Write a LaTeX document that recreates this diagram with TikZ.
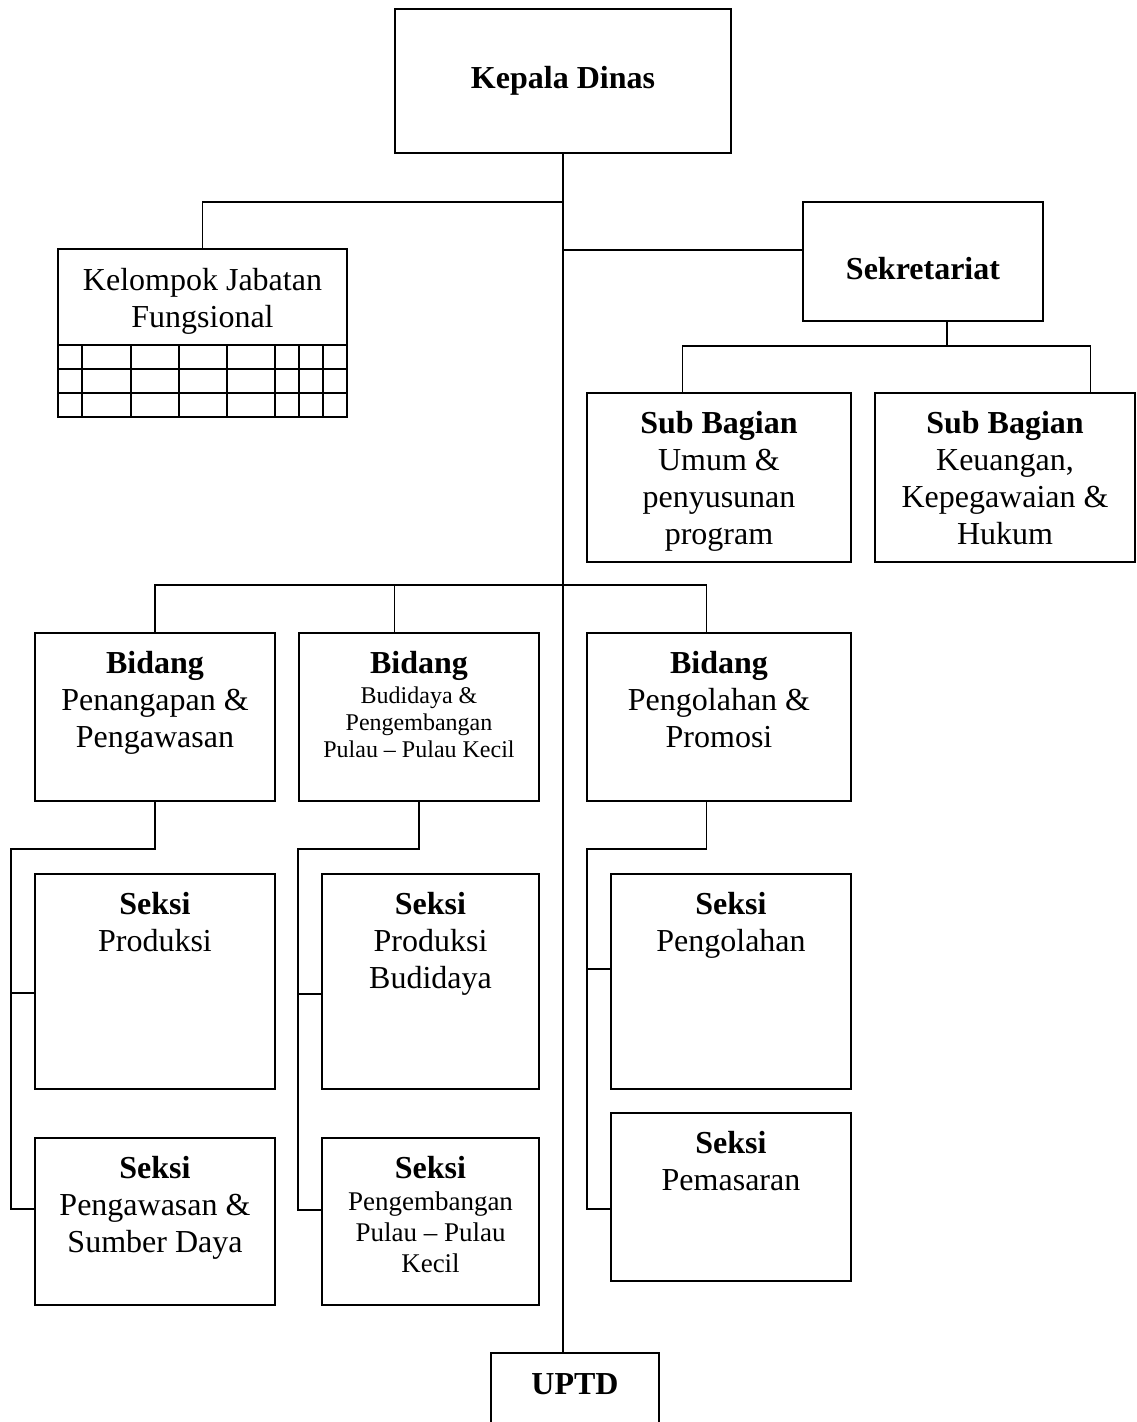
\documentclass[tikz,border=0pt]{standalone}
\usepackage{fontspec}
\setmainfont{Liberation Serif}
\tikzset{
  box/.style={draw, line width=1.5pt, inner sep=0pt, font=\fontsize{32}{37}\selectfont},
  conn/.style={line width=1.5pt},
  grid line/.style={line width=1.5pt}
}
% name, left, top, right, bottom, pad, content
\newcommand\bx[7]{%
  \node[box] (#1) at ({(#2+#4)/2},{(#3+#5)/2})
  {\parbox[c][\dimexpr#5pt-#3pt\relax][t]{\dimexpr#4pt-#2pt\relax}{\centering\vspace*{#6pt}\rule{0pt}{24pt}#7\par}};}
\begin{document}
\begin{tikzpicture}[x=1pt,y=-1pt]
\useasboundingbox (0,0) rectangle (1136,1422);
\clip (0,0) rectangle (1136,1422);
\fill[white] (0,0) rectangle (1136,1422);

% boxes
\bx{kd}{395}{9}{731}{153}{55}{\bfseries Kepala Dinas}
\bx{kjf}{58}{249}{347}{417}{17}{Kelompok Jabatan\\ Fungsional}
\bx{sek}{803}{202}{1043}{321}{53}{\bfseries Sekretariat}
\bx{sub1}{587}{393}{851}{562}{16}{\textbf{Sub Bagian}\\ Umum \&\\ penyusunan\\ program}
\bx{sub2}{875}{393}{1135}{562}{16}{\textbf{Sub Bagian}\\ Keuangan,\\ Kepegawaian \&\\ Hukum}
\bx{bid1}{35}{633}{275}{801}{16}{\textbf{Bidang}\\ Penangapan \&\\ Pengawasan}
\bx{bid2}{299}{633}{539}{801}{16}{\textbf{Bidang}\\[3pt]\fontsize{24}{27}\selectfont Budidaya \&\\ Pengembangan\\ Pulau – Pulau Kecil}
\bx{bid3}{587}{633}{851}{801}{16}{\textbf{Bidang}\\ Pengolahan \&\\ Promosi}
\bx{s11}{35}{874}{275}{1089}{16}{\textbf{Seksi}\\ Produksi}
\bx{s12}{35}{1138}{275}{1305}{16}{\textbf{Seksi}\\ Pengawasan \&\\ Sumber Daya}
\bx{s21}{322}{874}{539}{1089}{16}{\textbf{Seksi}\\ Produksi\\ Budidaya}
\bx{s22}{322}{1138}{539}{1305}{16}{\textbf{Seksi}\\[1pt]\fontsize{27}{31}\selectfont Pengembangan\\ Pulau – Pulau\\ Kecil}
\bx{s31}{611}{874}{851}{1089}{16}{\textbf{Seksi}\\ Pengolahan}
\bx{s32}{611}{1113}{851}{1281}{16}{\textbf{Seksi}\\ Pemasaran}
\bx{uptd}{491}{1353}{659}{1440}{17}{\bfseries UPTD}

% grid under Kelompok Jabatan Fungsional
\foreach \y in {345,369,393} \draw[grid line] (58,\y) -- (347,\y);
\foreach \x in {82,131,179,227,275,299,323} \draw[grid line] (\x,345) -- (\x,417);

% junction coordinates
\coordinate (bj1) at (563,202);
\coordinate (bj2) at (563,250);
\coordinate (sb) at (947,346);
\coordinate (bb) at (563,585);
\coordinate (c1) at (11,849);
\coordinate (k11) at (11,993);
\coordinate (k12) at (11,1209);
\coordinate (c2) at (298,849);
\coordinate (k21) at (298,994);
\coordinate (k22) at (298,1210);
\coordinate (c3) at (587,849);
\coordinate (k31) at (587,969);
\coordinate (k32) at (587,1209);

% connectors
\draw[conn] (kd.south) -- (kd.south |- uptd.north);
\draw[conn] (bj1) -| (kjf.north);
\draw[conn] (bj2) -- (sek.west |- bj2);
\draw[conn] (sek.south -| sb) -- (sb);
\draw[conn] ([xshift=96pt]sub1.north west) |- (sb) -| ([xshift=216pt]sub2.north west);
\draw[conn] (bid1.north) |- (bb) -| ([xshift=120pt]bid3.north west);
\draw[conn] ([xshift=96pt]bid2.north west) -- ([xshift=96pt]bid2.north west |- bb);

\draw[conn] (bid1.south) |- (c1) -- (k12) -- (s12.west |- k12);
\draw[conn] (k11) -- (s11.west |- k11);
\draw[conn] (bid2.south) |- (c2) -- (k22) -- (s22.west |- k22);
\draw[conn] (k21) -- (s21.west |- k21);
\draw[conn] ([xshift=120pt]bid3.south west) |- (c3) -- (k32) -- (s32.west |- k32);
\draw[conn] (k31) -- (s31.west |- k31);
\end{tikzpicture}
\end{document}
